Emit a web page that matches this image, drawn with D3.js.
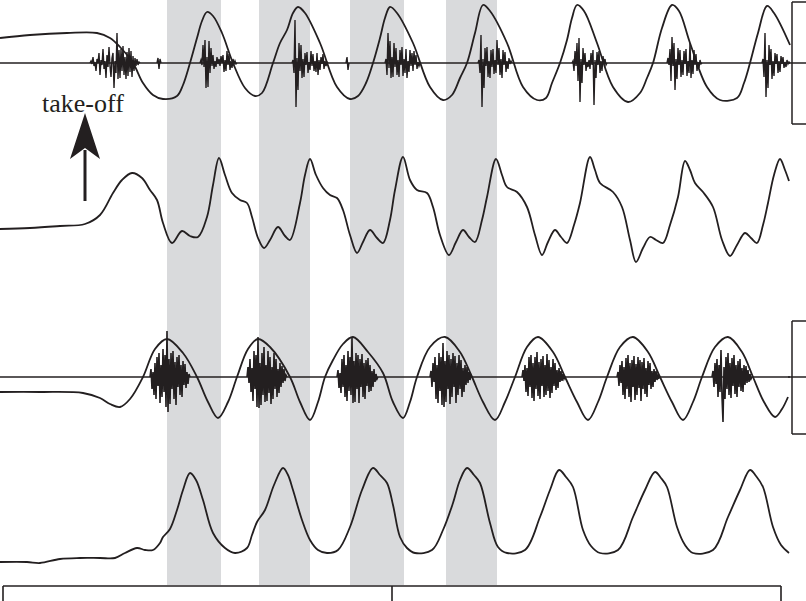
<!DOCTYPE html>
<html><head><meta charset="utf-8">
<script src="https://cdn.jsdelivr.net/npm/d3@7"></script>
<style>html,body{margin:0;padding:0;background:#fff}svg{display:block}</style>
</head><body>
<script>
// ---------- DATA (time in ms, signals in panel units) ----------
const flightPhases = [[167,221],[259,310],[350,404],[446,497]]; // shaded downstroke intervals
const timeBarTicks = [3, 392, 781];
const topCalib = [-61, 0, 61];
const bottomCalib = [-57, 0, 56];
const arrowTime = 85;
const arrowLabel = "take-off";

// forewing angle (top panel)
const foreAngle = [[0,25],[30,28],[67,30],[97,30],[110,25],[120,16],[133,0],[143,-20],[153,-32],[163,-36],[177,-33],[183,-22],[190,0],[197,25],[202,42],[207,51],[213,47],[222,30],[233,0],[245,-25],[255,-33],[262,-30],[273,0],[280,20],[287,33],[293,50],[298,56],[305,50],[320,20],[337,-24],[350,-36],[358,-33],[366,-20],[373,0],[380,25],[385,45],[390,56],[397,50],[413,20],[430,-24],[443,-37],[452,-32],[460,-15],[467,0],[475,30],[483,58],[490,52],[507,20],[523,-24],[537,-37],[546,-35],[552,-20],[560,0],[567,23],[572,45],[577,58],[584,52],[597,20],[613,-24],[628,-39],[640,-30],[647,-15],[653,0],[662,35],[672,58],[679,52],[690,20],[707,-24],[720,-37],[737,-35],[744,-20],[750,0],[758,30],[767,57],[774,50],[790,18]];

// second trace
const foreElev = [[0,-19],[30,-18],[60,-16],[85,-14],[100,-5],[113,17],[122,30],[132,37],[142,32],[150,20],[157,10],[163,-13],[172,-33],[182,-21],[190,-26],[198,-27],[207,-7],[213,25],[219,52],[225,35],[232,17],[240,10],[247,7],[252,-7],[258,-28],[264,-38],[270,-30],[278,-17],[285,-26],[290,-30],[300,7],[305,35],[310,51],[316,35],[323,22],[330,15],[337,12],[343,0],[350,-25],[357,-43],[363,-32],[370,-20],[377,-28],[383,-33],[390,-10],[395,20],[403,53],[410,30],[417,20],[427,17],[433,3],[440,-25],[449,-45],[456,-32],[463,-20],[469,-27],[475,-32],[482,-10],[487,13],[496,51],[502,35],[507,23],[517,18],[527,3],[535,-25],[542,-45],[548,-32],[555,-20],[561,-27],[567,-33],[574,-15],[580,7],[590,53],[595,40],[600,27],[613,18],[622,3],[630,-30],[636,-52],[643,-38],[650,-27],[656,-30],[663,-33],[670,-15],[678,13],[685,49],[690,40],[695,27],[703,18],[713,3],[722,-30],[730,-46],[737,-35],[745,-23],[751,-28],[757,-33],[763,-15],[768,7],[774,35],[780,51],[785,40],[789,29]];

// hindwing angle (third panel)
const hindAngle = [[0,-15],[40,-15],[83,-16],[100,-21],[110,-27],[120,-30],[130,-22],[143,0],[155,28],[167,38],[183,24],[197,0],[208,-25],[218,-41],[228,-25],[237,0],[248,28],[258,38],[270,30],[290,0],[300,-25],[310,-43],[318,-25],[325,0],[333,17],[343,33],[353,40],[368,25],[383,4],[393,-25],[403,-41],[410,-25],[417,0],[430,30],[445,40],[460,25],[472,0],[483,-25],[495,-43],[505,-25],[515,0],[527,30],[538,40],[553,25],[565,0],[577,-25],[588,-43],[598,-25],[607,0],[620,30],[633,40],[648,25],[660,0],[672,-25],[683,-43],[693,-25],[702,0],[715,30],[728,40],[742,25],[753,0],[764,-25],[775,-40],[782,-32],[788,-20]];

// fourth trace
const hindElev = [[0,-52],[27,-52],[40,-53],[60,-49],[80,-48],[100,-48],[115,-48],[125,-43],[137,-38],[145,-40],[153,-40],[160,-33],[163,-27],[170,-19],[177,0],[183,20],[190,37],[196,30],[203,10],[213,-23],[225,-38],[235,-43],[247,-38],[252,-25],[257,-12],[265,0],[274,25],[283,42],[288,35],[293,20],[302,-10],[310,-30],[318,-40],[327,-43],[338,-40],[350,-17],[362,20],[373,42],[380,35],[387,27],[393,5],[400,-27],[407,-38],[415,-43],[432,-40],[443,-20],[453,7],[460,30],[467,42],[474,35],[480,27],[490,-13],[498,-37],[507,-43],[525,-40],[540,-7],[550,20],[559,40],[566,33],[573,23],[583,-20],[591,-36],[600,-43],[618,-40],[633,-7],[645,20],[655,38],[661,32],[667,23],[677,-17],[685,-35],[693,-43],[713,-40],[728,-7],[740,20],[750,40],[756,34],[763,23],[773,-17],[781,-35],[789,-43]];

// EMG bursts: [start, end, samples]
const emgTopBursts = [
 [90,140,[0,2,-1,6,-3,1,-8,4,0,10,-12,3,-2,14,-6,2,-15,8,-4,16,-3,-14,5,10,-25,2,-10,30,-16,13,-15,14,-8,17,-12,6,-16,11,-13,15,-9,12,-14,7,-8,5,-3,4,-2,1,0]],
 [157,161,[0,5,-6,4,0]],
 [200,237,[0,3,-2,18,-4,23,-25,6,-24,22,-10,15,-3,8,-6,2,-4,6,-1,4,-3,7,0,8,-9,3,-8,12,-2,9,-7,2,-5,4,-1,2,-1,0]],
 [292,328,[0,3,-10,43,-44,5,-27,20,-8,18,-15,4,-14,10,-2,11,-10,1,-7,12,-3,9,-8,2,-9,10,-12,3,-7,6,-1,9,-6,2,-3,1,0]],
 [346,349,[0,6,-7,0]],
 [385,420,[0,4,-12,30,-5,22,-15,6,-14,20,-4,15,-12,3,-14,13,-2,16,-13,4,-10,14,-15,2,-9,13,-3,10,-8,12,-2,8,-6,1,-3,0]],
 [478,512,[0,3,-10,28,-44,4,-25,15,-3,16,-14,2,-15,13,-4,14,-11,3,-10,23,-2,15,-12,4,-15,13,-2,11,-9,2,-6,5,-1,2,0]],
 [572,607,[0,2,-8,12,-3,20,-18,25,-39,4,-20,15,-2,10,-8,1,-4,3,-6,10,-2,13,-42,3,-15,11,-2,12,-10,2,-8,7,-1,4,-2,0]],
 [667,702,[0,5,-2,14,-18,26,-3,20,-27,4,-16,15,-2,13,-14,3,-12,12,-1,14,-13,2,-10,20,-15,3,-11,13,-2,9,-8,1,-5,3,-1,0]],
 [762,790,[0,4,-14,30,-34,3,-25,18,-2,14,-16,2,-13,10,-1,9,-10,2,-9,7,-1,6,-5,1,-4,3,-1,1,0]]
];
const emgBottomBursts = [
 [150,190,[0,8,-12,5,-18,14,-22,20,-9,24,-26,12,-20,28,-15,22,-30,46,-35,18,-27,24,-12,26,-22,15,-28,20,-10,22,-18,12,-20,16,-8,13,-11,5,-7,3,0]],
 [247,287,[0,10,-6,18,-15,9,-24,26,-12,22,-30,40,-31,14,-28,24,-18,30,-25,12,-24,26,-16,20,-27,10,-22,24,-12,18,-20,8,-16,14,-10,11,-6,8,-4,2,0]],
 [337,378,[0,7,-11,4,-16,18,-10,22,-20,12,-24,26,-14,20,-18,40,-26,16,-25,24,-12,22,-26,18,-10,23,-20,14,-22,17,-9,19,-15,12,-14,6,-10,8,-5,3,-2,0]],
 [430,472,[0,6,-10,14,-5,20,-22,12,-26,24,-14,20,-28,34,-30,16,-25,26,-12,22,-27,18,-20,24,-10,21,-26,14,-18,22,-12,17,-20,9,-15,12,-8,10,-6,5,-3,2,0]],
 [522,565,[0,7,-4,12,-15,9,-19,20,-10,22,-21,14,-24,20,-12,25,-19,15,-22,18,-9,21,-20,12,-18,23,-14,17,-21,10,-16,18,-9,14,-13,7,-11,9,-5,6,-4,3,-2,0]],
 [617,660,[0,5,-9,12,-6,16,-18,10,-22,19,-12,22,-20,14,-25,17,-10,21,-23,13,-18,20,-11,17,-24,15,-12,19,-17,9,-20,16,-8,14,-12,6,-10,8,-5,6,-3,2,-1,0]],
 [712,752,[0,6,-10,14,-7,18,-20,12,-15,27,-20,-45,10,-22,20,-12,24,-18,14,-21,19,-9,22,-17,12,-20,16,-10,18,-14,9,-15,12,-8,11,-6,7,-5,3,-2,0]]
];
const emgExtent = [0, 790];

// ---------- LAYOUT ----------
const W = 806, H = 601;
const ink = "#231f20", band = "#d9dadc";
const svg = d3.select("body").append("svg").attr("width", W).attr("height", H);

const x = d3.scaleLinear().domain([0, 806]).range([0, 806]);
const yScale = c => d3.scaleLinear().domain([-60, 60]).range([c + 60, c - 60]);
const y1 = yScale(63), y2 = yScale(210), y3 = yScale(377), y4 = yScale(510);

// shaded phases
svg.append("g").selectAll("rect").data(flightPhases).join("rect")
  .attr("x", d => x(d[0])).attr("width", d => x(d[1]) - x(d[0]))
  .attr("y", 0).attr("height", 585).attr("fill", band);

function drawEmg(bursts, ys, w) {
  svg.append("line").attr("x1", x(emgExtent[0])).attr("x2", x(emgExtent[1]))
    .attr("y1", ys(0)).attr("y2", ys(0)).attr("stroke", ink).attr("stroke-width", 1.5);
  const line = d3.line().x(d => x(d[0])).y(d => ys(d[1]));
  svg.append("g").selectAll("path").data(bursts).join("path")
    .attr("d", ([a, b, s]) => {
      const step = (b - a) / (s.length - 1);
      return line(s.map((v, i) => [a + i * step, v]));
    })
    .attr("fill", "none").attr("stroke", ink).attr("stroke-width", w);
}
function drawTrace(data, ys) {
  svg.append("path").datum(data)
    .attr("d", d3.line().x(d => x(d[0])).y(d => ys(d[1])).curve(d3.curveCatmullRom.alpha(0.5)))
    .attr("fill", "none").attr("stroke", ink).attr("stroke-width", 1.8);
}

drawEmg(emgTopBursts, y1, 1.4);
drawTrace(foreAngle, y1);
drawTrace(foreElev, y2);
drawEmg(emgBottomBursts, y3, 1.6);
drawTrace(hindAngle, y3);
drawTrace(hindElev, y4);

// calibration brackets on right
function bracket(vals, ys) {
  const g = svg.append("g").attr("stroke", ink).attr("stroke-width", 1.5).attr("fill", "none");
  g.append("line").attr("x1", 792).attr("x2", 792).attr("y1", ys(vals[0])).attr("y2", ys(vals[2]));
  vals.forEach((v, i) => g.append("line").attr("x1", i === 1 ? 788 : 792).attr("x2", 806)
    .attr("y1", ys(v)).attr("y2", ys(v)));
}
bracket(topCalib, y1);
bracket(bottomCalib, y3);

// time scale bar
const tb = svg.append("g").attr("stroke", ink).attr("stroke-width", 1.6);
tb.append("line").attr("x1", x(timeBarTicks[0])).attr("x2", x(timeBarTicks[2])).attr("y1", 586).attr("y2", 586);
timeBarTicks.forEach(t => tb.append("line").attr("x1", x(t)).attr("x2", x(t)).attr("y1", 586).attr("y2", 601));

// take-off arrow
const ax = x(arrowTime);
svg.append("line").attr("x1", ax).attr("x2", ax).attr("y1", 201).attr("y2", 150)
  .attr("stroke", ink).attr("stroke-width", 3);
svg.append("path")
  .attr("d", `M${ax},113 L${ax + 15},159 L${ax},148 L${ax - 15},159 Z`)
  .attr("fill", ink);
svg.append("text").attr("x", 42).attr("y", 112)
  .attr("font-family", "'Liberation Serif', serif")
  .attr("font-size", 26).attr("fill", ink)
  .text(arrowLabel);
</script>
</body></html>
